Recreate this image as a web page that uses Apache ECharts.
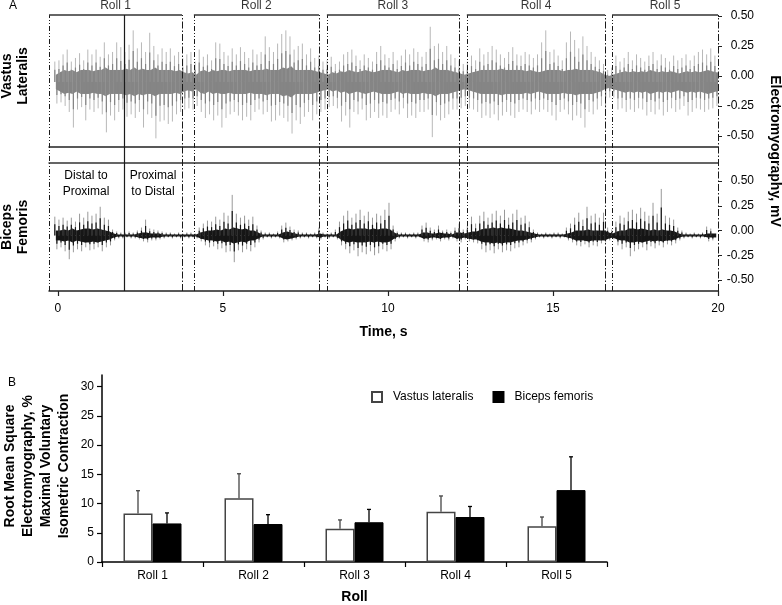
<!DOCTYPE html>
<html><head><meta charset="utf-8">
<script src="https://cdn.jsdelivr.net/npm/echarts@6/dist/echarts.min.js"></script>
<style>html,body{margin:0;padding:0;background:#fff}#c{width:782px;height:605px}</style>
</head><body><div id="c"></div>
<script>
// ---------- Panel A data ----------
const timeTicks = [0, 5, 10, 15, 20];
const mvTicks = [-0.5, -0.25, 0, 0.25, 0.5];
const rollNames = ['Roll 1', 'Roll 2', 'Roll 3', 'Roll 4', 'Roll 5'];
const rollStart = [-0.27, 4.12, 8.15, 12.39, 16.79];
const rollEnd = [3.76, 7.91, 12.15, 16.58, 20.0];
const directionSwitch = 2.0;
const binStart = -0.125, binStep = 0.125;   // s
const vlBaseline = -0.05, bfBaseline = -0.05; // mV
// amplitudes in hundredths of mV (above / below baseline), one value per time bin
const vlSpikeUp = [17,18,23,27,17,20,24,18,27,23,27,21,33,23,25,33,29,25,31,43,28,33,25,41,30,23,28,25,28,22,25,20,23,25,17,27,21,23,18,33,32,25,22,28,23,29,25,20,27,23,25,38,29,25,32,40,43,38,27,30,32,23,28,20,22,17,18,21,15,17,23,25,27,22,18,23,20,17,25,30,23,20,25,18,22,27,23,28,25,21,25,46,30,32,25,30,23,20,18,15,17,22,18,28,23,25,30,27,23,20,25,29,23,22,25,23,20,23,33,43,25,27,22,18,33,42,35,28,38,30,25,21,18,15,10,12,22,17,20,25,18,23,20,17,22,25,18,23,20,17,22,18,20,23,18,22,25,27,23,28,22];
const vlSpikeDown = [18,17,20,25,38,23,21,32,23,25,22,27,42,28,32,25,23,29,27,30,25,38,27,30,47,33,32,35,33,27,25,23,22,23,20,25,30,27,32,28,38,30,27,25,28,32,29,32,25,23,27,25,33,32,28,30,33,43,32,35,29,25,32,27,25,23,21,20,22,33,28,38,25,27,23,32,30,25,30,28,30,25,23,27,22,30,28,30,25,25,23,46,28,32,30,27,23,23,22,20,22,23,25,30,28,30,27,32,28,25,28,30,25,23,25,27,23,25,23,25,28,32,25,23,27,32,28,30,38,25,27,23,20,22,13,13,23,22,25,23,25,22,23,28,25,27,23,28,25,22,25,23,20,28,25,22,23,25,23,22,20];
const vlCore = [6,8,10,9,10,8,10,10,10,9,10,10,12,10,10,10,10,11,10,12,10,11,10,10,12,10,10,10,10,9,10,8,7,8,6,9,10,8,10,9,10,10,9,10,10,10,10,9,10,10,10,11,10,10,10,12,11,13,10,10,10,10,10,9,8,7,6,8,7,9,8,10,9,8,9,10,9,8,9,10,10,10,9,8,10,9,10,10,10,9,10,10,12,10,10,10,9,8,7,6,7,8,9,10,10,10,10,10,11,10,10,10,10,10,9,10,9,8,9,10,10,10,10,9,10,10,11,10,10,10,10,9,8,6,5,6,7,8,9,8,9,8,9,8,10,9,8,9,8,9,8,7,8,9,8,9,8,9,10,9,8];
const bfSpikeUp = [19,16,18,15,18,14,22,18,24,20,22,29,18,16,6,4,3,3,4,3,5,8,16,7,6,5,4,3,3,2,3,2,3,3,2,8,12,15,14,19,16,23,20,41,22,18,20,16,19,10,5,3,3,2,4,10,13,9,6,5,3,3,2,3,8,3,2,3,6,14,20,25,18,22,26,20,24,18,22,20,26,33,10,4,3,3,2,3,3,10,13,8,6,10,5,6,4,8,12,6,10,19,12,20,24,18,22,25,20,26,18,22,26,18,20,14,6,3,2,3,2,3,3,2,8,12,18,23,16,29,20,22,18,23,8,6,14,20,18,24,26,22,28,24,20,33,22,47,20,18,16,8,5,3,2,3,2,3,9,7];
const bfSpikeDown = [14,12,16,24,17,14,16,12,15,14,12,16,12,10,5,3,3,2,3,3,4,6,7,5,5,4,3,2,3,2,3,2,3,2,3,6,10,12,11,14,13,17,16,27,15,17,14,16,12,7,4,2,3,2,3,7,6,5,4,3,2,3,2,3,4,2,3,2,4,10,14,18,15,21,17,19,16,20,18,14,16,14,6,3,2,3,2,3,2,6,7,5,4,6,4,5,3,6,7,4,6,7,8,14,17,15,18,14,17,15,16,13,12,10,8,7,4,2,3,2,3,2,3,2,5,7,10,11,9,12,10,11,8,7,5,4,10,14,12,21,16,14,12,15,11,13,10,12,9,10,8,5,3,2,3,2,3,2,6,5];
const bfCore = [5,5,6,5,7,5,6,7,7,6,7,6,5,4,2,1,1,1,1,1,2,3,3,2,2,2,1,1,1,1,1,1,1,1,1,3,4,5,5,6,5,7,6,8,7,6,7,5,5,3,1,1,1,1,1,3,4,3,2,1,1,1,1,1,2,1,1,1,1,4,6,7,6,7,7,7,6,7,6,7,7,6,3,1,1,1,1,1,1,3,3,2,2,3,2,2,1,3,3,2,3,4,4,6,7,7,8,7,8,7,7,6,5,5,4,3,2,1,1,1,1,1,1,1,2,3,5,5,5,6,5,5,5,5,3,2,4,5,5,7,7,6,7,6,5,6,5,6,5,5,4,2,1,1,1,1,1,1,2,2];

// ---------- Panel B data ----------
const barCategories = ['Roll 1', 'Roll 2', 'Roll 3', 'Roll 4', 'Roll 5'];
const vlMean = [8.3, 10.9, 5.7, 8.6, 6.1];
const vlSD = [3.9, 4.2, 1.5, 2.7, 1.6];
const bfMean = [6.6, 6.5, 6.8, 7.7, 12.3];
const bfSD = [1.8, 1.6, 2.2, 1.8, 5.7];
const rmsTicks = [0, 5, 10, 15, 20, 25, 30];

// ---------- helpers ----------
const FONT = '"Liberation Sans", Arial, Helvetica, sans-serif';
const darkFrac = 0.6; // inner (darker) part of each spike, drawing style only
function emgData(up, down, core) {
  return up.map((u, i) => [binStart + i * binStep, u / 100, down[i] / 100, core[i] / 100,
    (i + 1 < core.length ? core[i + 1] : core[i]) / 100]);
}
function emgRender(base, spikeColor, coreColor) {
  return function (params, api) {
    const t = api.value(0), up = api.value(1), dn = api.value(2), core = api.value(3), coreN = api.value(4);
    const ta = t + binStep * 0.25, tb = t + binStep * 0.75;
    const a1 = api.coord([ta, base + up]), a0 = api.coord([ta, base]), aM = api.coord([ta, base + up * darkFrac]);
    const b1 = api.coord([tb, base - dn]), b0 = api.coord([tb, base]), bM = api.coord([tb, base - dn * darkFrac]);
    const p1 = api.coord([t + binStep * 0.5, base + core]);
    const p2 = api.coord([t + binStep * 1.5, base + coreN]);
    const p3 = api.coord([t + binStep * 1.5, base - coreN]);
    const p4 = api.coord([t + binStep * 0.5, base - core]);
    return { type: 'group', children: [
      { type: 'line', shape: { x1: a1[0], y1: a1[1], x2: a0[0], y2: a0[1] }, style: { stroke: spikeColor, lineWidth: 1 } },
      { type: 'line', shape: { x1: b1[0], y1: b1[1], x2: b0[0], y2: b0[1] }, style: { stroke: spikeColor, lineWidth: 1 } },
      { type: 'polygon', shape: { points: [p1, [p2[0] + 0.3, p2[1]], [p3[0] + 0.3, p3[1]], p4] }, style: { fill: coreColor } },
      { type: 'line', shape: { x1: aM[0], y1: aM[1], x2: a0[0], y2: a0[1] }, style: { stroke: coreColor, lineWidth: 1.2 } },
      { type: 'line', shape: { x1: bM[0], y1: bM[1], x2: b0[0], y2: b0[1] }, style: { stroke: coreColor, lineWidth: 1.2 } }
    ] };
  };
}
const tMin = rollStart[0], tMax = rollEnd[rollEnd.length - 1];
const dashEnd = [7, 2, 1.5, 2];
const dashStart = [5, 2, 1, 2, 1, 2];
const ml = [];
rollStart.forEach((s, k) => {
  const e = rollEnd[k];
  ml.push([{ coord: [s, 0], lineStyle: { type: dashStart, width: 1 } }, { coord: [s, 1] }]);
  ml.push([{ coord: [e, 0], lineStyle: { type: dashEnd, width: 1 } }, { coord: [e, 1] }]);
  ml.push([{ coord: [s, 1], lineStyle: { type: 'solid', width: 1.5, color: '#333' } }, { coord: [e, 1] }]);
});
ml.push([{ coord: [directionSwitch, 0], lineStyle: { type: 'solid', width: 1.2 } }, { coord: [directionSwitch, 1] }]);

const barW = 29;
function errRender(sign, color) {
  return function (params, api) {
    const c = api.coord([api.value(0), api.value(1)]);
    const t = api.coord([api.value(0), api.value(1) + api.value(2)]);
    const x = c[0] + sign * barW / 2;
    return { type: 'group', children: [
      { type: 'line', shape: { x1: x, y1: c[1], x2: x, y2: t[1] }, style: { stroke: color, lineWidth: 1.3 } },
      { type: 'line', shape: { x1: x - 2, y1: t[1], x2: x + 2, y2: t[1] }, style: { stroke: color, lineWidth: 1.3 } }
    ] };
  };
}

const chart = echarts.init(document.getElementById('c'), null, { renderer: 'canvas' });
const mvAxis = (gi, min, max) => ({
  type: 'value', gridIndex: gi, position: 'right', min: min, max: max,
  splitLine: { show: false }, axisLine: { show: false, onZero: false },
  axisTick: { show: true, length: 4, customValues: mvTicks, lineStyle: { color: '#222' } },
  axisLabel: { customValues: mvTicks, formatter: v => v.toFixed(2), align: 'right', margin: 36, fontSize: 12, color: '#000', fontFamily: FONT }
});
chart.setOption({
  animation: false,
  textStyle: { fontFamily: FONT },
  grid: [
    { left: 49, width: 669, top: 15, height: 132 },
    { left: 49, width: 669, top: 163, height: 128 },
    { left: 49, width: 669, top: 15, height: 276 },
    { left: 102, width: 505, top: 375, height: 192 }
  ],
  xAxis: [
    { type: 'value', gridIndex: 0, min: tMin, max: tMax, position: 'bottom', axisLabel: { show: false }, axisTick: { show: false }, splitLine: { show: false }, axisLine: { show: true, onZero: false, lineStyle: { color: '#222', width: 1.5 } } },
    { type: 'value', gridIndex: 1, min: tMin, max: tMax, position: 'bottom', splitLine: { show: false },
      axisLine: { show: true, onZero: false, lineStyle: { color: '#222', width: 1.5 } },
      axisTick: { show: true, length: 5, customValues: timeTicks, lineStyle: { color: '#222', width: 1.2 } },
      axisLabel: { customValues: timeTicks, fontSize: 12, color: '#000', margin: 12 },
      name: 'Time, s', nameLocation: 'middle', nameGap: 34, nameTextStyle: { fontSize: 14, fontWeight: 'bold', color: '#000' } },
    { type: 'value', gridIndex: 1, min: tMin, max: tMax, position: 'top', axisLabel: { show: false }, axisTick: { show: false }, splitLine: { show: false }, axisLine: { show: true, onZero: false, lineStyle: { color: '#333', width: 1.5 } } },
    { type: 'value', gridIndex: 2, min: tMin, max: tMax, show: false },
    { type: 'category', gridIndex: 3, data: barCategories,
      axisLine: { show: true, lineStyle: { color: '#000', width: 1.5 } },
      axisTick: { show: true, length: 5, lineStyle: { color: '#000', width: 1.2 } },
      axisLabel: { fontSize: 12, color: '#000', margin: 8 },
      name: 'Roll', nameLocation: 'middle', nameGap: 28, nameTextStyle: { fontSize: 14, fontWeight: 'bold', color: '#000' } }
  ],
  yAxis: [
    mvAxis(0, -0.592, 0.508),
    mvAxis(1, -0.611, 0.682),
    { type: 'value', gridIndex: 2, min: 0, max: 1, show: false },
    { type: 'value', gridIndex: 3, min: 0, max: 32, splitLine: { show: false },
      axisLine: { show: true, lineStyle: { color: '#000', width: 1.5 } },
      axisTick: { show: true, length: 5, customValues: rmsTicks, lineStyle: { color: '#000', width: 1.2 } },
      axisLabel: { customValues: rmsTicks, fontSize: 12, color: '#000', margin: 8 } }
  ],
  legend: {
    data: ['Vastus lateralis', 'Biceps femoris'], left: 366, top: 386, icon: 'rect',
    itemWidth: 10, itemHeight: 10, itemGap: 19,
    textStyle: { fontSize: 12, color: '#000', padding: [0, 0, 0, 6] }
  },
  series: [
    { type: 'custom', xAxisIndex: 0, yAxisIndex: 0, z: 2, silent: true, clip: true,
      renderItem: emgRender(vlBaseline, '#b8b8b8', '#858585'),
      data: emgData(vlSpikeUp, vlSpikeDown, vlCore), encode: { x: 0, y: 1 } },
    { type: 'custom', xAxisIndex: 1, yAxisIndex: 1, z: 2, silent: true, clip: true,
      renderItem: emgRender(bfBaseline, '#999999', '#161616'),
      data: emgData(bfSpikeUp, bfSpikeDown, bfCore), encode: { x: 0, y: 1 } },
    { type: 'scatter', xAxisIndex: 3, yAxisIndex: 2, z: 5, silent: true, symbolSize: 1,
      itemStyle: { color: 'rgba(0,0,0,0)' },
      data: rollNames.map((n, k) => ({ name: n, value: [(rollStart[k] + rollEnd[k]) / 2, 1] })),
      label: { show: true, position: 'top', distance: 3, formatter: '{b}', fontSize: 12, color: '#000' },
      markLine: { silent: true, symbol: ['none', 'none'], label: { show: false }, lineStyle: { color: '#1a1a1a', width: 1 }, data: ml } },
    { name: 'Vastus lateralis', type: 'bar', xAxisIndex: 4, yAxisIndex: 3, data: vlMean, barWidth: barW, barGap: '0%',
      itemStyle: { color: '#fff', borderColor: '#444', borderWidth: 1.5 } },
    { name: 'Biceps femoris', type: 'bar', xAxisIndex: 4, yAxisIndex: 3, data: bfMean, barWidth: barW, barGap: '0%',
      itemStyle: { color: '#000', borderColor: '#000', borderWidth: 1 } },
    { type: 'custom', xAxisIndex: 4, yAxisIndex: 3, z: 4, renderItem: errRender(-1, '#444'),
      data: vlMean.map((m, i) => [i, m, vlSD[i]]), encode: { x: 0, y: 1 } },
    { type: 'custom', xAxisIndex: 4, yAxisIndex: 3, z: 4, renderItem: errRender(1, '#000'),
      data: bfMean.map((m, i) => [i, m, bfSD[i]]), encode: { x: 0, y: 1 } }
  ],
  graphic: [
    { type: 'text', x: 13, y: 6, style: { text: 'A', fontSize: 12, fontFamily: FONT, fill: '#000', align: 'center', verticalAlign: 'middle' } },
    { type: 'text', x: 12, y: 383, style: { text: 'B', fontSize: 12, fontFamily: FONT, fill: '#000', align: 'center', verticalAlign: 'middle' } },
    { type: 'text', x: 15, y: 76, rotation: Math.PI / 2, style: { text: 'Vastus\nLateralis', fontSize: 14, fontWeight: 'bold', lineHeight: 16, fontFamily: FONT, fill: '#000', align: 'center', verticalAlign: 'middle' } },
    { type: 'text', x: 15, y: 227, rotation: Math.PI / 2, style: { text: 'Biceps\nFemoris', fontSize: 14, fontWeight: 'bold', lineHeight: 16, fontFamily: FONT, fill: '#000', align: 'center', verticalAlign: 'middle' } },
    { type: 'text', x: 775, y: 151, rotation: -Math.PI / 2, style: { text: 'Electromyography, mV', fontSize: 14, fontWeight: 'bold', fontFamily: FONT, fill: '#000', align: 'center', verticalAlign: 'middle' } },
    { type: 'text', x: 86, y: 184, style: { text: 'Distal to\nProximal', fontSize: 12, lineHeight: 16, fontFamily: FONT, fill: '#000', align: 'center', verticalAlign: 'middle' } },
    { type: 'text', x: 153, y: 184, style: { text: 'Proximal\nto Distal', fontSize: 12, lineHeight: 16, fontFamily: FONT, fill: '#000', align: 'center', verticalAlign: 'middle' } },
    { type: 'text', x: 37, y: 466, rotation: Math.PI / 2, style: { text: 'Root Mean Square\nElectromyography, %\nMaximal Voluntary\nIsometric Contraction', fontSize: 14, fontWeight: 'bold', lineHeight: 18, fontFamily: FONT, fill: '#000', align: 'center', verticalAlign: 'middle' } }
  ]
});
</script></body></html>
